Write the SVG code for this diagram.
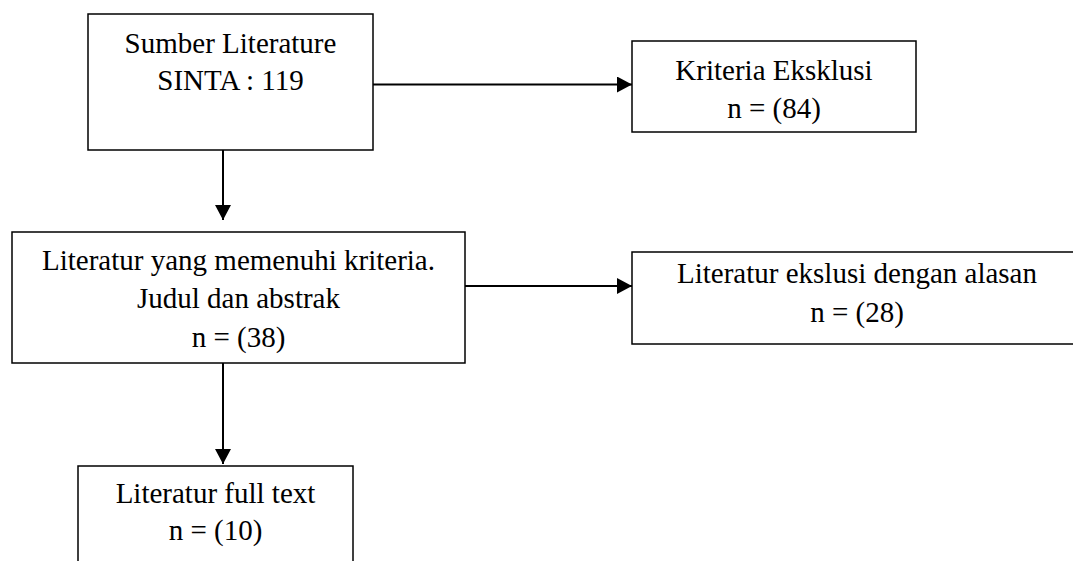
<svg xmlns="http://www.w3.org/2000/svg" width="1073" height="561" viewBox="0 0 1073 561">
<defs>
<style>
.box{fill:#fff;stroke:#000;stroke-width:1.5}
.t{font-family:"Liberation Serif","Times New Roman",serif;font-size:29px;fill:#000;text-anchor:middle}
.c{stroke:#000;stroke-width:2;fill:none}
</style>
<marker id="ah" markerWidth="16" markerHeight="16" refX="15" refY="8" orient="auto" markerUnits="userSpaceOnUse">
<path d="M0,0 L15,8 L0,16 Z" fill="#000"/>
</marker>
</defs>
<rect width="1073" height="561" fill="#fff"/>
<g id="connectors">
<line class="c" x1="373" y1="84.5" x2="632" y2="84.5" marker-end="url(#ah)"/>
<line class="c" x1="223" y1="150" x2="223" y2="220" marker-end="url(#ah)"/>
<line class="c" x1="465" y1="286" x2="632" y2="286" marker-end="url(#ah)"/>
<line class="c" x1="223" y1="363" x2="223" y2="464" marker-end="url(#ah)"/>
</g>
<g id="sumber">
<rect class="box" x="88" y="14" width="285" height="136"/>
<text class="t" x="230.5" y="53">Sumber Literature</text>
<text class="t" x="230.5" y="90">SINTA : 119</text>
</g>
<g id="kriteria">
<rect class="box" x="632" y="41" width="284" height="91"/>
<text class="t" x="774" y="80">Kriteria Eksklusi</text>
<text class="t" x="774" y="118">n = (84)</text>
</g>
<g id="memenuhi">
<rect class="box" x="12" y="232" width="453" height="131"/>
<text class="t" x="238.5" y="270">Literatur yang memenuhi kriteria.</text>
<text class="t" x="238.5" y="308">Judul dan abstrak</text>
<text class="t" x="238.5" y="347">n = (38)</text>
</g>
<g id="ekslusi">
<rect class="box" x="632" y="252" width="460" height="92"/>
<text class="t" x="857" y="283">Literatur ekslusi dengan alasan</text>
<text class="t" x="857" y="322">n = (28)</text>
</g>
<g id="fulltext">
<rect class="box" x="78" y="466" width="275" height="110"/>
<text class="t" x="215.5" y="503">Literatur full text</text>
<text class="t" x="215.5" y="540">n = (10)</text>
</g>
</svg>
